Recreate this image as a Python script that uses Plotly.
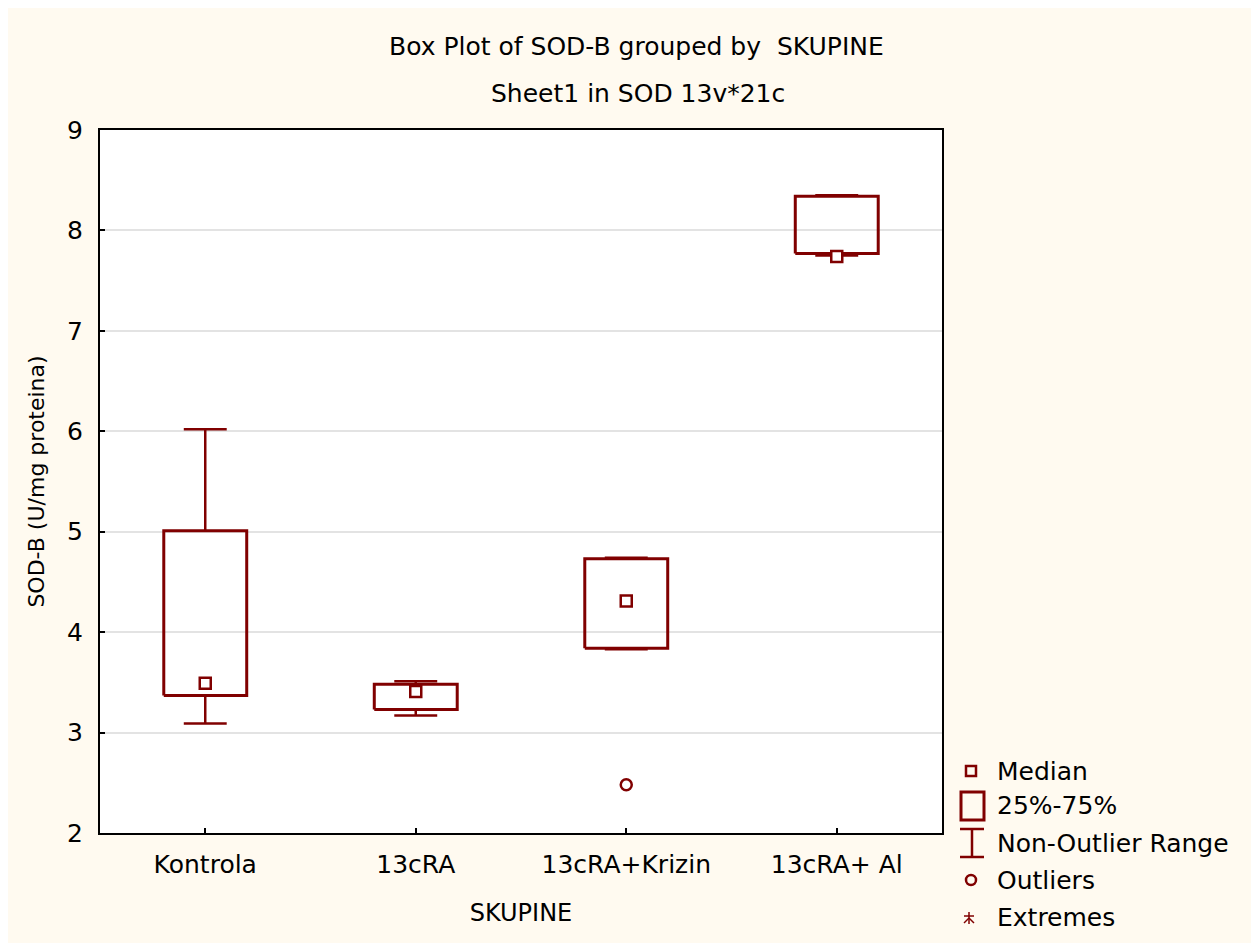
import plotly.graph_objects as go

# ---- data ----
categories = ["Kontrola", "13cRA", "13cRA+Krizin", "13cRA+ Al"]
medians = [3.49, 3.41, 4.31, 7.74]
q1 = [3.37, 3.23, 3.84, 7.77]
q3 = [5.01, 3.48, 4.73, 8.34]
whisker_low = [3.09, 3.17, 3.83, 7.75]
whisker_high = [6.02, 3.51, 4.74, 8.35]
outlier_x = ["13cRA+Krizin"]
outlier_y = [2.48]

title_line1 = "Box Plot of SOD-B grouped by  SKUPINE"
title_line2 = "Sheet1 in SOD 13v*21c"
x_title = "SKUPINE"
y_title = "SOD-B (U/mg proteina)"
legend_labels = ["Median", "25%-75%", "Non-Outlier Range", "Outliers", "Extremes"]

# ---- style ----
RED = "#800000"
FONT = "DejaVu Sans"
CREAM = "#FFFAF0"
OFF = 8  # page body margin
W, H = 1251, 935
ML, MR, MT, MB = 92, 317, 122, 110
PW, PH = W - ML - MR, H - MT - MB
BOX_HALF = 0.197
CAP_HALF = 0.102
FS = 25

def px_x(p):
    return (p - OFF - ML) / PW

def px_y(p):
    return (H - MB - (p - OFF)) / PH

fig = go.Figure()

for i, cat in enumerate(categories):
    xs = [i - BOX_HALF, i + BOX_HALF, i + BOX_HALF, i - BOX_HALF, i - BOX_HALF]
    ys = [q1[i], q1[i], q3[i], q3[i], q1[i]]
    wx = [i, i, None, i - CAP_HALF, i + CAP_HALF, None,
          i, i, None, i - CAP_HALF, i + CAP_HALF]
    wy = [q3[i], whisker_high[i], None, whisker_high[i], whisker_high[i], None,
          q1[i], whisker_low[i], None, whisker_low[i], whisker_low[i]]
    fig.add_trace(go.Scatter(x=wx, y=wy, mode="lines",
                             line=dict(color=RED, width=2.5),
                             hoverinfo="skip", showlegend=False))
    fig.add_trace(go.Scatter(x=xs, y=ys, mode="lines",
                             line=dict(color=RED, width=3),
                             hoverinfo="skip", showlegend=False))

fig.add_trace(go.Scatter(x=list(range(len(categories))), y=medians, mode="markers",
                         marker=dict(symbol="square", size=11, color="white",
                                     line=dict(color=RED, width=2.5)),
                         showlegend=False, name="Median"))
fig.add_trace(go.Scatter(x=[categories.index(c) for c in outlier_x], y=outlier_y,
                         mode="markers",
                         marker=dict(symbol="circle", size=11, color="white",
                                     line=dict(color=RED, width=2.5)),
                         showlegend=False, name="Outliers"))

shapes = []
annotations = []

annotations.append(dict(text=title_line1, xref="paper", yref="paper",
                        x=px_x(636), y=px_y(47), showarrow=False,
                        xanchor="center", yanchor="middle",
                        font=dict(family=FONT, size=FS, color="black")))
annotations.append(dict(text=title_line2, xref="paper", yref="paper",
                        x=px_x(638), y=px_y(93), showarrow=False,
                        xanchor="center", yanchor="middle",
                        font=dict(family=FONT, size=FS, color="black")))

leg_sym_x = 971
leg_text_x = 995
leg_y = [771, 805, 843, 880, 917]
for lab, yy in zip(legend_labels, leg_y):
    annotations.append(dict(text=lab, xref="paper", yref="paper",
                            x=px_x(leg_text_x), y=px_y(yy), showarrow=False,
                            xanchor="left", yanchor="middle",
                            font=dict(family=FONT, size=FS, color="black")))
shapes.append(dict(type="rect", xref="paper", yref="paper",
                   x0=px_x(leg_sym_x - 5), x1=px_x(leg_sym_x + 5),
                   y0=px_y(leg_y[0] + 5), y1=px_y(leg_y[0] - 5),
                   line=dict(color=RED, width=2.5), fillcolor="rgba(0,0,0,0)"))
shapes.append(dict(type="rect", xref="paper", yref="paper",
                   x0=px_x(961), x1=px_x(984),
                   y0=px_y(820), y1=px_y(792),
                   line=dict(color=RED, width=3), fillcolor="rgba(0,0,0,0)"))
yt, yb = 829, 857
for (xa, ya, xb, yb2) in [(960, yt, 984, yt), (960, yb, 984, yb), (972, yt, 972, yb)]:
    shapes.append(dict(type="line", xref="paper", yref="paper",
                       x0=px_x(xa), y0=px_y(ya), x1=px_x(xb), y1=px_y(yb2),
                       line=dict(color=RED, width=2.5)))
shapes.append(dict(type="circle", xref="paper", yref="paper",
                   x0=px_x(leg_sym_x - 5), x1=px_x(leg_sym_x + 5),
                   y0=px_y(leg_y[3] + 5), y1=px_y(leg_y[3] - 5),
                   line=dict(color=RED, width=2.5), fillcolor="rgba(0,0,0,0)"))
cx, cy = 969, 918
for (xa, ya, xb, yb2) in [(cx, cy - 6, cx, cy + 6), (cx - 5, cy - 2, cx + 5, cy - 2),
                          (cx - 5, cy + 5, cx, cy), (cx + 5, cy + 5, cx, cy)]:
    shapes.append(dict(type="line", xref="paper", yref="paper",
                       x0=px_x(xa), y0=px_y(ya), x1=px_x(xb), y1=px_y(yb2),
                       line=dict(color=RED, width=1.5)))

fig.update_layout(
    width=W, height=H,
    margin=dict(l=ML, r=MR, t=MT, b=MB, pad=0),
    paper_bgcolor=CREAM,
    plot_bgcolor="white",
    shapes=shapes,
    annotations=annotations,
    showlegend=False,
    font=dict(family=FONT, size=FS, color="black"),
    xaxis=dict(
        range=[-0.5, len(categories) - 0.5],
        tickmode="array",
        tickvals=list(range(len(categories))),
        ticktext=categories,
        ticks="inside", ticklen=5, tickwidth=1.5, tickcolor="black",
        showline=True, linecolor="black", linewidth=2, mirror=True,
        showgrid=False, zeroline=False,
        ticklabelstandoff=8,
        tickfont=dict(family=FONT, size=FS, color="black"),
        title=dict(text=x_title, standoff=26,
                   font=dict(family=FONT, size=FS - 1, color="black")),
    ),
    yaxis=dict(
        range=[2, 9],
        tickmode="linear", tick0=2, dtick=1,
        ticks="inside", ticklen=5, tickwidth=1.5, tickcolor="black",
        showline=True, linecolor="black", linewidth=2, mirror=True,
        showgrid=True, gridcolor="#E3E3E3", gridwidth=1.5,
        zeroline=False,
        ticklabelstandoff=10,
        tickfont=dict(family=FONT, size=FS, color="black"),
        title=dict(text=y_title, standoff=16,
                   font=dict(family=FONT, size=22, color="black")),
    ),
)

fig.write_html("out.html")
